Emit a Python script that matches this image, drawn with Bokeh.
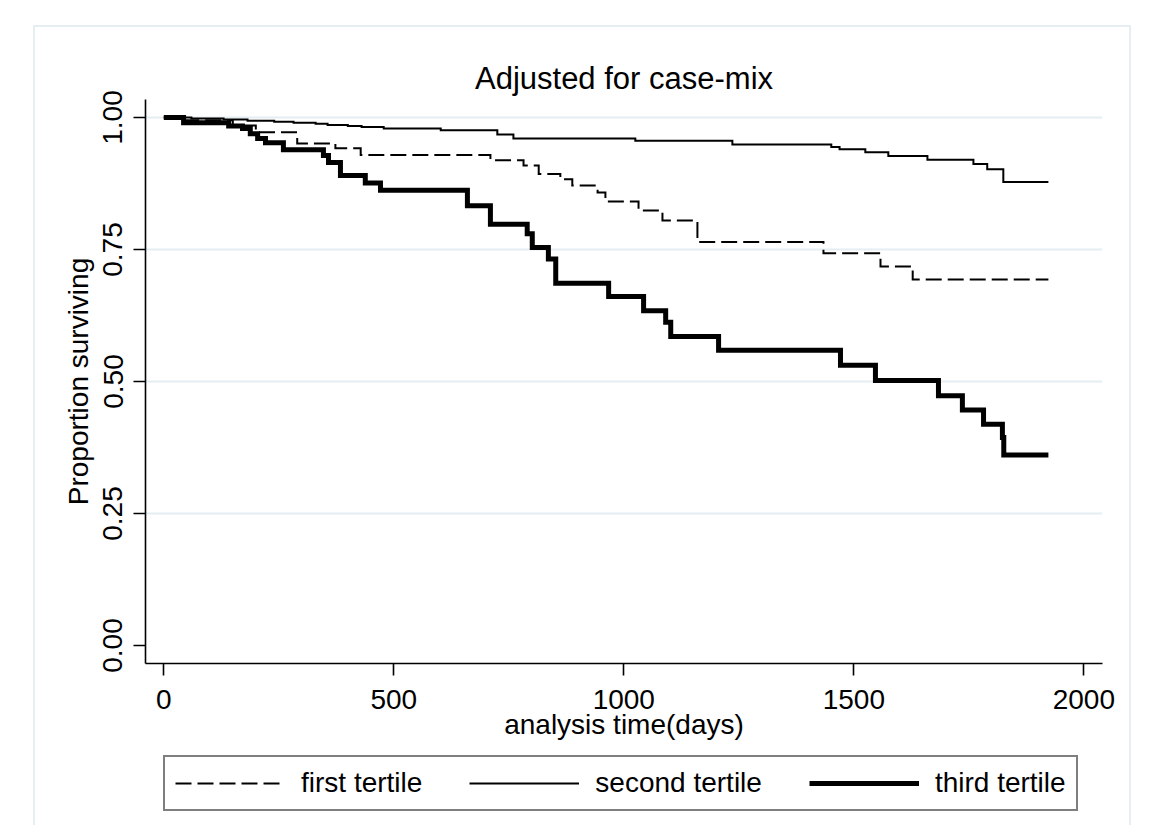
from bokeh.plotting import figure
from bokeh.layouts import column
from bokeh.models import FixedTicker, Legend, LegendItem, NumeralTickFormatter
from bokeh.embed import file_html
from bokeh.resources import INLINE

# ---- data ----
first_t = [0, 40, 150, 200, 290, 373, 428, 710, 782, 815, 862, 888, 943, 960, 1032, 1084, 1160, 1434, 1558, 1628, 1923]
first_s = [1.0, 0.995, 0.985, 0.972, 0.951, 0.942, 0.929, 0.919, 0.909, 0.893, 0.883, 0.871, 0.858, 0.841, 0.824, 0.805, 0.764, 0.743, 0.718, 0.693, 0.693]

second_t = [0, 60, 130, 182, 240, 282, 330, 356, 400, 430, 478, 602, 725, 760, 1025, 1236, 1451, 1469, 1525, 1575, 1660, 1760, 1790, 1825, 1923]
second_s = [1.0, 0.998, 0.996, 0.994, 0.992, 0.990, 0.988, 0.986, 0.984, 0.982, 0.979, 0.976, 0.968, 0.960, 0.956, 0.949, 0.944, 0.940, 0.934, 0.927, 0.920, 0.912, 0.902, 0.878, 0.878]

third_t = [0, 43, 141, 171, 188, 204, 221, 260, 347, 358, 384, 438, 471, 660, 710, 790, 801, 836, 852, 967, 1043, 1091, 1102, 1206, 1471, 1547, 1684, 1736, 1782, 1823, 1826, 1923]
third_s = [1.0, 0.990, 0.984, 0.979, 0.969, 0.960, 0.952, 0.939, 0.928, 0.915, 0.890, 0.876, 0.862, 0.833, 0.798, 0.780, 0.754, 0.732, 0.686, 0.661, 0.634, 0.612, 0.585, 0.559, 0.531, 0.502, 0.473, 0.446, 0.419, 0.394, 0.361, 0.361]

x_ticks = [0, 500, 1000, 1500, 2000]
y_ticks = [0.0, 0.25, 0.5, 0.75, 1.0]
grid_ticks = [0.25, 0.5, 0.75, 1.0]
labels = ["first tertile", "second tertile", "third tertile"]

FONT = "Liberation Sans"
FS = "28px"
BORDER = "2px solid #e6eef1"
NAN = float("nan")

# line styles for the three series
styles_1 = dict(line_color="black", line_width=2, line_dash="16 6", line_join="miter")
styles_2 = dict(line_color="black", line_width=2, line_join="miter")
styles_3 = dict(line_color="black", line_width=5, line_join="miter")

p = figure(
    frame_width=957, frame_height=564,
    x_range=(-39.8, 2040.6), y_range=(-0.0341, 1.0341),
    output_backend="svg", toolbar_location=None,
    min_border_left=110, min_border_right=27, min_border_top=72, min_border_bottom=88,
    title="Adjusted for case-mix",
)
p.background_fill_color = "white"
p.border_fill_color = "white"
p.outline_line_color = None

p.title.align = "center"
p.title.text_font = FONT
p.title.text_font_size = "31px"
p.title.text_font_style = "normal"
p.title.text_color = "black"
p.title.standoff = 7

for ax in (p.xaxis[0], p.yaxis[0]):
    ax.axis_line_width = 1.6
    ax.axis_line_color = "black"
    ax.major_tick_line_width = 1.6
    ax.major_tick_line_color = "black"
    ax.major_tick_in = 0
    ax.major_tick_out = 12
    ax.minor_tick_line_color = None
    ax.major_label_text_font = FONT
    ax.major_label_text_font_size = FS
    ax.major_label_text_color = "black"
    ax.axis_label_text_font = FONT
    ax.axis_label_text_font_size = FS
    ax.axis_label_text_font_style = "normal"
    ax.axis_label_text_color = "black"

p.xaxis.ticker = FixedTicker(ticks=x_ticks)
p.yaxis.ticker = FixedTicker(ticks=y_ticks)
p.yaxis.formatter = NumeralTickFormatter(format="0.00")
p.yaxis.major_label_orientation = "vertical"
p.xaxis.axis_label = "analysis time(days)"
p.yaxis.axis_label = "Proportion surviving"
p.xaxis.major_label_standoff = 14
p.xaxis.axis_label_standoff = -3
p.yaxis.major_label_standoff = 11
p.yaxis.axis_label_standoff = 7

p.xgrid.visible = False
p.ygrid.ticker = FixedTicker(ticks=grid_ticks)
p.ygrid.grid_line_color = "#e6eef1"
p.ygrid.grid_line_width = 2

p.step(first_t, first_s, mode="after", **styles_1)
p.step(second_t, second_s, mode="after", **styles_2)
p.step(third_t, third_s, mode="after", **styles_3)

# ---- legend strip below the plot ----
leg = figure(
    width=1094, height=74, x_range=(0, 1), y_range=(0, 1),
    x_axis_type=None, y_axis_type=None,
    output_backend="svg", toolbar_location=None,
    min_border=0,
)
leg.grid.visible = False
leg.outline_line_color = None
leg.background_fill_color = "white"
leg.border_fill_color = "white"

# legend proxies (nothing drawn in the strip itself)
g1 = leg.line(x=[NAN, NAN], y=[NAN, NAN], **styles_1)
g2 = leg.line(x=[NAN, NAN], y=[NAN, NAN], **styles_2)
g3 = leg.line(x=[NAN, NAN], y=[NAN, NAN], **styles_3)

legend = Legend(
    items=[LegendItem(label=labels[0], renderers=[g1]),
           LegendItem(label=labels[1], renderers=[g2]),
           LegendItem(label=labels[2], renderers=[g3])],
    orientation="horizontal", location=(18, 14),
    glyph_width=110, glyph_height=20, label_standoff=16, spacing=47,
    padding=10, margin=0,
    label_text_font=FONT, label_text_font_size=FS, label_text_color="black",
    border_line_color="black", border_line_width=2,
    background_fill_color="white", background_fill_alpha=1.0,
)
leg.add_layout(legend, "center")

layout = column(
    p, leg, spacing=0,
    styles={"margin-left": "33px", "margin-top": "25px",
            "border-left": BORDER, "border-top": BORDER, "border-right": BORDER},
)

open("out.html", "w").write(file_html(layout, INLINE))
